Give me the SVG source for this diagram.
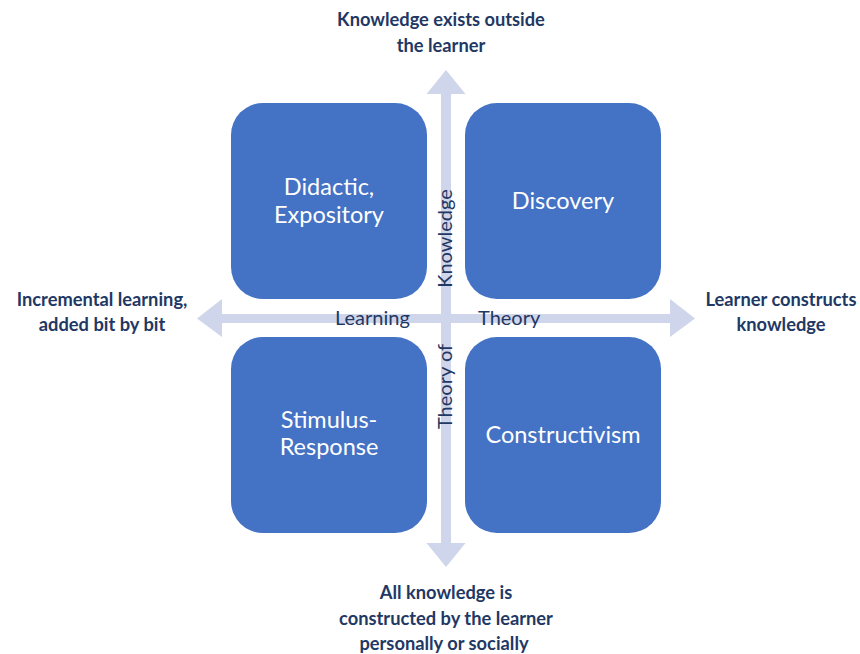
<svg xmlns="http://www.w3.org/2000/svg" width="860" height="654" viewBox="0 0 860 654">
<style>
.box{fill:#4472C4;}
.arrow{fill:#CFD5EA;}
.nt{font-family:Lato,"Liberation Sans",sans-serif;font-size:23.5px;fill:#FFFFFF;text-anchor:middle;}
.lbl{font-family:Lato,"Liberation Sans",sans-serif;font-size:18.3px;font-weight:bold;fill:#1F3864;text-anchor:middle;}
.ax{font-family:Lato,"Liberation Sans",sans-serif;font-size:20px;fill:#1F3864;}
</style>
<rect width="860" height="654" fill="#FFFFFF"/>
<g id="connectors">
<polygon class="arrow" points="446,70 465.5,94 451,94 451,543 465.5,543 446,567 426.5,543 441,543 441,94 426.5,94"/>
<polygon class="arrow" points="197,318.5 222,299 222,314 670,314 670,299 695,318.5 670,337 670,323 222,323 222,337"/>
</g>
<g id="node-didactic">
<rect class="box" x="231" y="103" width="196" height="196" rx="32"/>
<text class="nt" x="329" y="195">Didactic,</text>
<text class="nt" x="329" y="223">Expository</text>
</g>
<g id="node-discovery">
<rect class="box" x="465" y="103" width="196" height="196" rx="32"/>
<text class="nt" x="563" y="209">Discovery</text>
</g>
<g id="node-stimulus">
<rect class="box" x="231" y="337" width="196" height="196" rx="32"/>
<text class="nt" x="329" y="428">Stimulus-</text>
<text class="nt" x="329" y="455">Response</text>
</g>
<g id="node-constructivism">
<rect class="box" x="465" y="337" width="196" height="196" rx="32"/>
<text class="nt" x="563" y="443">Constructivism</text>
</g>
<g id="axis-labels">
<text class="ax" x="335" y="325">Learning</text>
<text class="ax" x="478" y="325">Theory</text>
<text class="ax" x="452" y="238.5" text-anchor="middle" transform="rotate(-90 452 238.5)">Knowledge</text>
<text class="ax" x="452" y="386.5" text-anchor="middle" transform="rotate(-90 452 386.5)">Theory of</text>
</g>
<g id="label-top">
<text class="lbl" x="441" y="26">Knowledge exists outside</text>
<text class="lbl" x="441" y="52">the learner</text>
</g>
<g id="label-left">
<text class="lbl" x="102" y="306">Incremental learning,</text>
<text class="lbl" x="102" y="331">added bit by bit</text>
</g>
<g id="label-right">
<text class="lbl" x="781" y="306">Learner constructs</text>
<text class="lbl" x="781" y="331">knowledge</text>
</g>
<g id="label-bottom">
<text class="lbl" x="446" y="599">All knowledge is</text>
<text class="lbl" x="446" y="625">constructed by the learner</text>
<text class="lbl" x="444" y="650">personally or socially</text>
</g>
</svg>
